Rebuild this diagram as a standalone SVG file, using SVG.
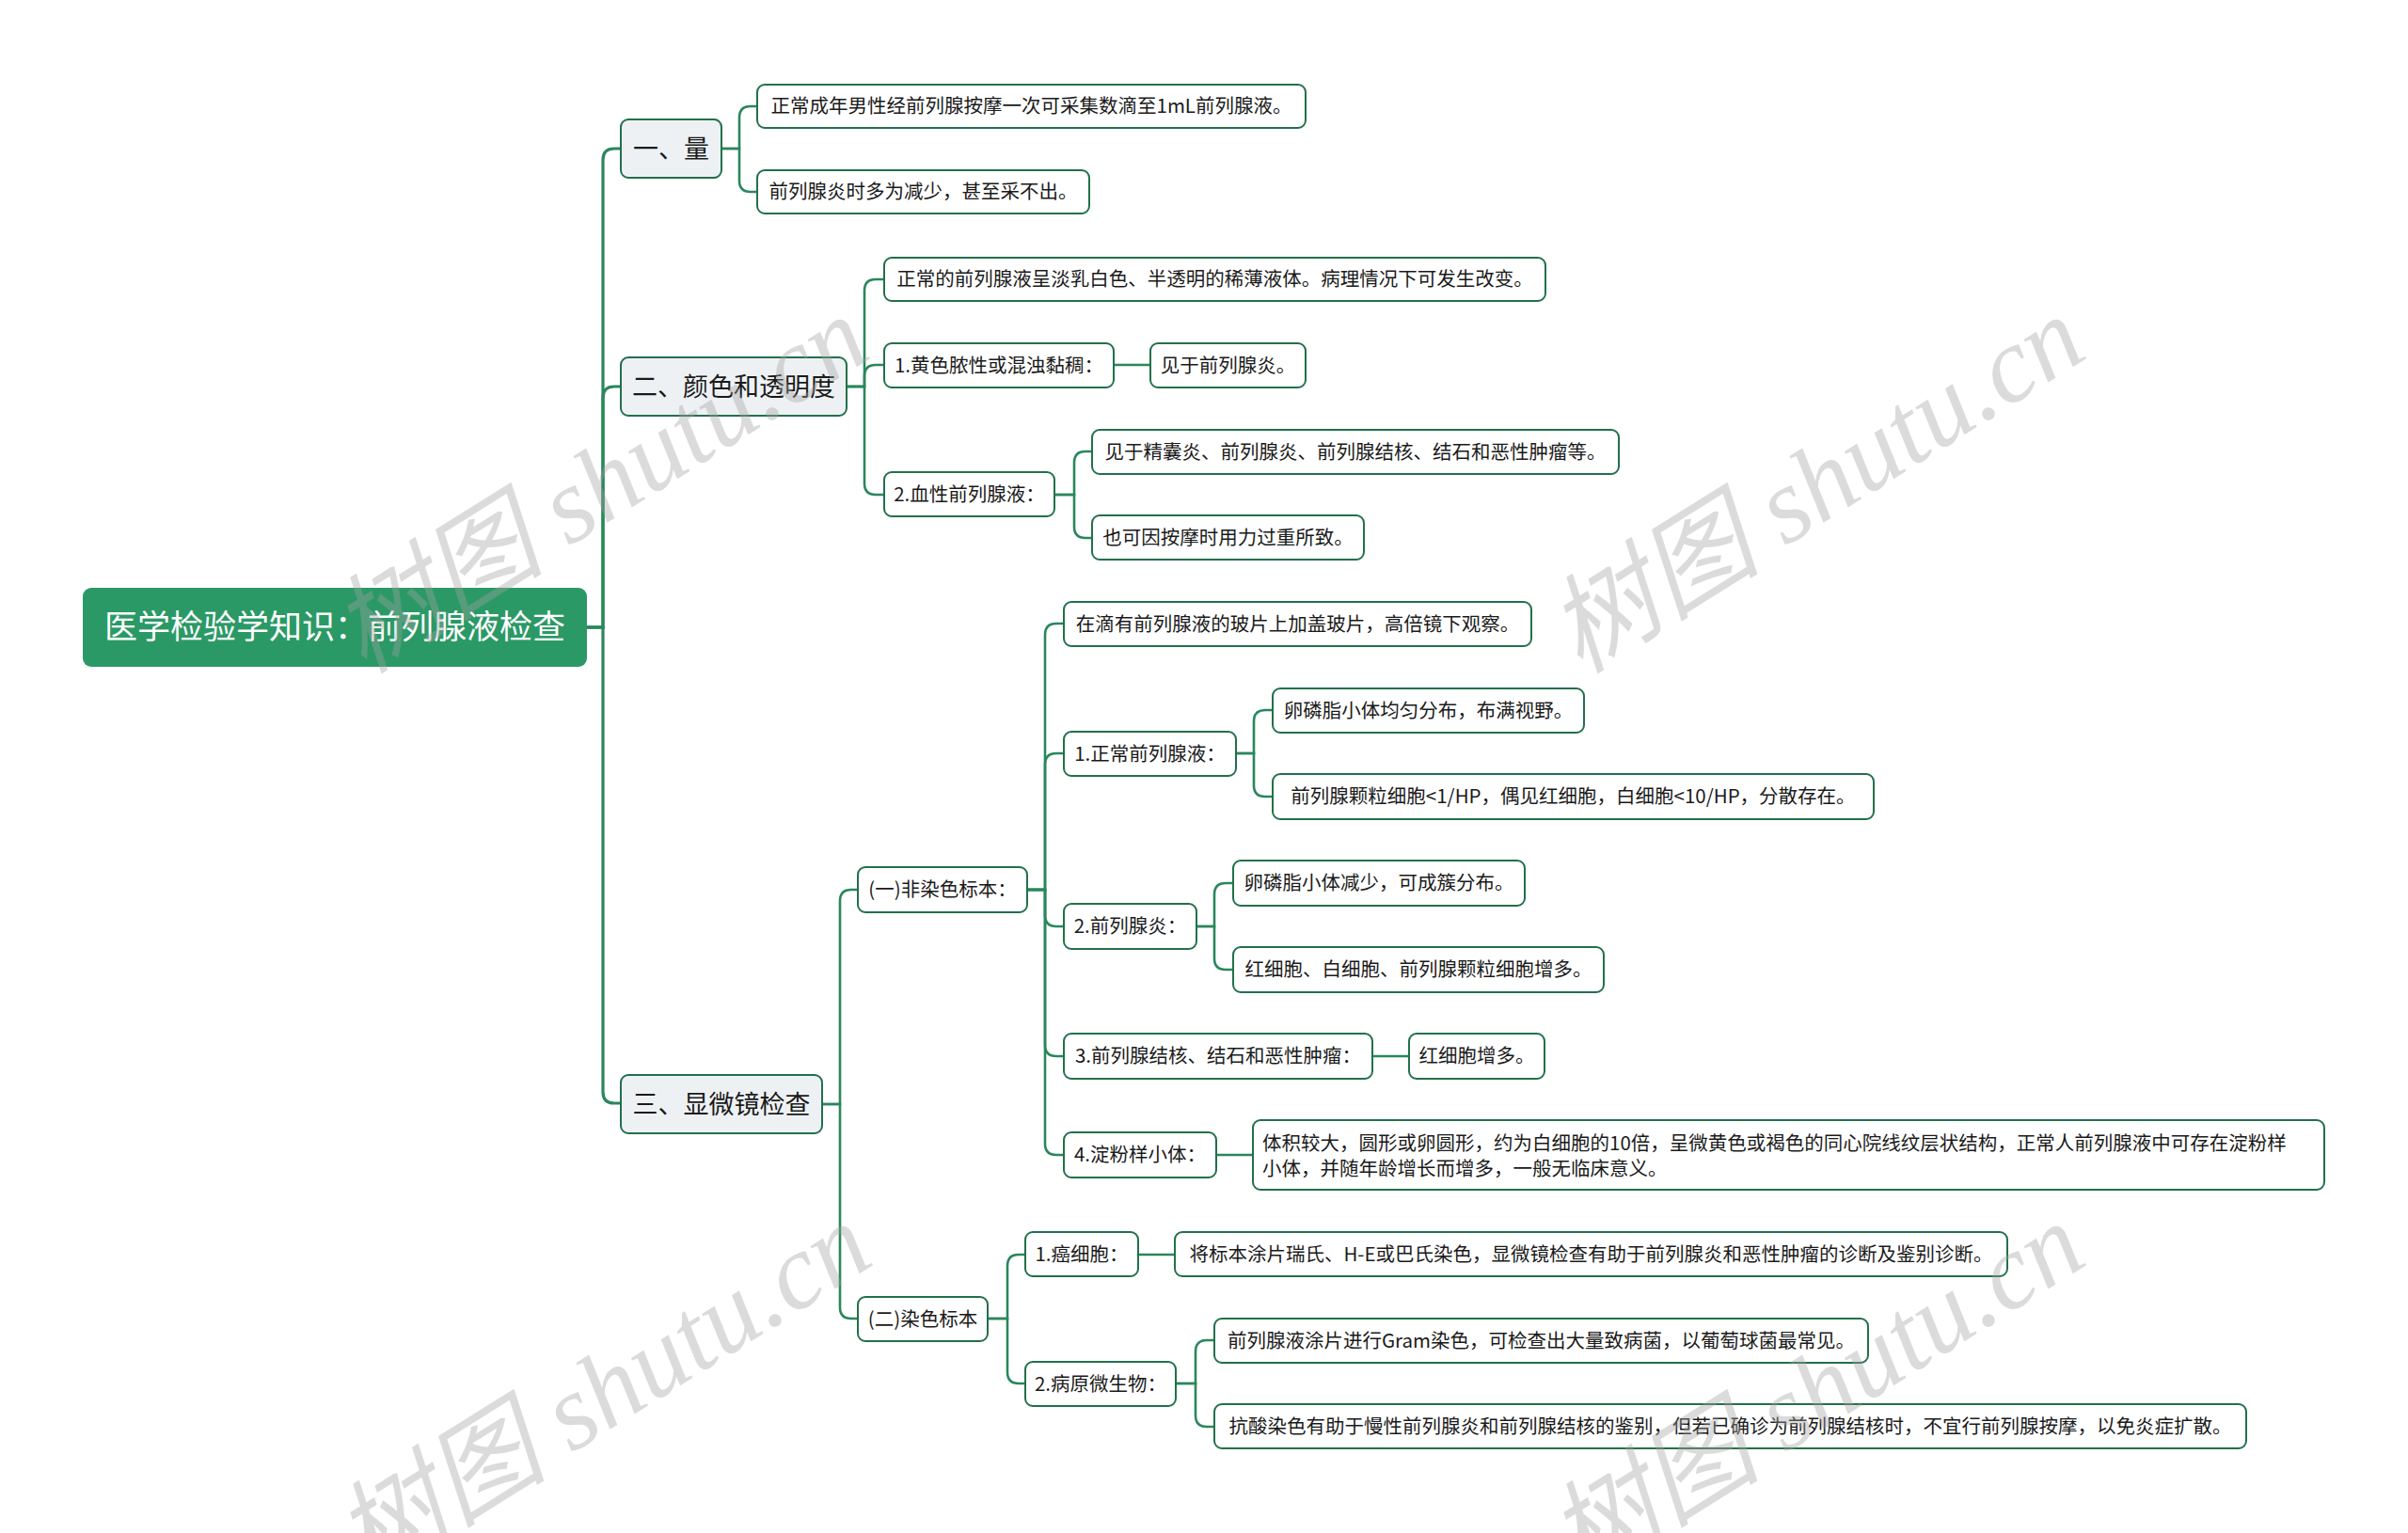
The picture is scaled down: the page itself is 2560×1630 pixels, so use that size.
<svg xmlns="http://www.w3.org/2000/svg" width="2560" height="1630" viewBox="0 0 2560 1630">
<style>
.bg{fill:#ffffff}
.root rect{fill:#2b9966;stroke:none}
.root text{fill:#ffffff;font-size:35px}
.l1 rect{fill:#eef1f4;stroke:#22704b;stroke-width:2}
.l1 text{fill:#1a1a1a;font-size:27px}
.lf rect{fill:#ffffff;stroke:#22704b;stroke-width:2}
.lf text{fill:#1a1a1a;font-size:20.5px}
text{font-family:"Noto Sans CJK SC","Noto Sans",sans-serif}
.c path{fill:none;stroke:#2a875c;stroke-width:2.6;stroke-linecap:round}
.c path.t{stroke-width:3.2}
.wm text{font-family:"Liberation Serif","Noto Sans CJK SC",serif;font-style:italic;font-size:114px;fill:#a0a0a0;fill-opacity:0.38}
.m{text-anchor:middle}
</style>
<rect class="bg" x="0" y="0" width="2560" height="1630"/>

<g id="connectors" class="c">
  <path class="t" d="M624 667 H641 V170 Q641 158 653 158 H660"/>
  <path class="t" d="M624 667 H641 V423 Q641 411 653 411 H660"/>
  <path class="t" d="M624 667 H641 V1161 Q641 1173 653 1173 H660"/>
  <path d="M767 158 H786 V125 Q786 113 798 113 H805"/>
  <path d="M767 158 H786 V192 Q786 204 798 204 H805"/>
  <path d="M900 411 H919 V309 Q919 297 931 297 H940"/>
  <path d="M900 411 H919 V400 Q919 388 931 388 H940"/>
  <path d="M900 411 H919 V514 Q919 526 931 526 H940"/>
  <path d="M1184 388 H1223"/>
  <path d="M1121 526 H1142 V492 Q1142 480 1154 480 H1161"/>
  <path d="M1121 526 H1142 V560 Q1142 572 1154 572 H1161"/>
  <path d="M874 1174 H893 V958 Q893 946 905 946 H912"/>
  <path d="M874 1174 H893 V1390 Q893 1402 905 1402 H912"/>
  <path d="M1092 946 H1111 V675 Q1111 663 1123 663 H1131"/>
  <path d="M1092 946 H1111 V813 Q1111 801 1123 801 H1131"/>
  <path d="M1092 946 H1111 V973 Q1111 985 1123 985 H1131"/>
  <path d="M1092 946 H1111 V1111 Q1111 1123 1123 1123 H1131"/>
  <path d="M1092 946 H1111 V1216 Q1111 1228 1123 1228 H1131"/>
  <path d="M1314 801 H1333 V767 Q1333 755 1345 755 H1353"/>
  <path d="M1314 801 H1333 V835 Q1333 847 1345 847 H1353"/>
  <path d="M1272 985 H1291 V951 Q1291 939 1303 939 H1311"/>
  <path d="M1272 985 H1291 V1019 Q1291 1031 1303 1031 H1311"/>
  <path d="M1459 1123 H1498"/>
  <path d="M1293 1228 H1332"/>
  <path d="M1050 1402 H1071 V1346 Q1071 1334 1083 1334 H1090"/>
  <path d="M1050 1402 H1071 V1459 Q1071 1471 1083 1471 H1090"/>
  <path d="M1210 1334 H1249"/>
  <path d="M1250 1471 H1271 V1437 Q1271 1425 1283 1425 H1291"/>
  <path d="M1250 1471 H1271 V1505 Q1271 1517 1283 1517 H1291"/>
</g>

<g id="root" class="root">
  <rect x="88" y="625" width="536" height="84" rx="9"/>
  <text class="m" x="356" y="679">医学检验学知识：前列腺液检查</text>
</g>

<g id="n1" class="l1"><rect x="660" y="127" width="107" height="62" rx="8"/><text class="m" x="713.5" y="167.5">一、量</text></g>
<g id="n2" class="l1"><rect x="660" y="380" width="240" height="62" rx="8"/><text class="m" x="780" y="420.5">二、颜色和透明度</text></g>
<g id="n3" class="l1"><rect x="660" y="1143" width="214" height="62" rx="8"/><text class="m" x="767" y="1183.5">三、显微镜检查</text></g>

<g id="n1a" class="lf"><rect x="805" y="90" width="583" height="46" rx="8"/><text class="m" x="1096.5" y="120">正常成年男性经前列腺按摩一次可采集数滴至1mL前列腺液。</text></g>
<g id="n1b" class="lf"><rect x="805" y="181" width="353" height="46" rx="8"/><text class="m" x="981.5" y="211">前列腺炎时多为减少，甚至采不出。</text></g>

<g id="n2a" class="lf"><rect x="940" y="274" width="703" height="46" rx="8"/><text class="m" x="1291.5" y="304">正常的前列腺液呈淡乳白色、半透明的稀薄液体。病理情况下可发生改变。</text></g>
<g id="n2b" class="lf"><rect x="940" y="365" width="244" height="47" rx="8"/><text class="m" x="1062" y="395.5">1.黄色脓性或混浊黏稠：</text></g>
<g id="n2b1" class="lf"><rect x="1223" y="365" width="165" height="47" rx="8"/><text class="m" x="1305.5" y="395.5">见于前列腺炎。</text></g>
<g id="n2c" class="lf"><rect x="940" y="502" width="181" height="47" rx="8"/><text class="m" x="1030.5" y="532.5">2.血性前列腺液：</text></g>
<g id="n2c1" class="lf"><rect x="1161" y="457" width="560" height="47" rx="8"/><text class="m" x="1441" y="487.5">见于精囊炎、前列腺炎、前列腺结核、结石和恶性肿瘤等。</text></g>
<g id="n2c2" class="lf"><rect x="1161" y="548" width="289" height="47" rx="8"/><text class="m" x="1305.5" y="578.5">也可因按摩时用力过重所致。</text></g>

<g id="n3a" class="lf"><rect x="912" y="922" width="180" height="48" rx="8"/><text class="m" x="1002" y="953">(一)非染色标本：</text></g>
<g id="n3a1" class="lf"><rect x="1131" y="640" width="497" height="47" rx="8"/><text class="m" x="1379.5" y="670.5">在滴有前列腺液的玻片上加盖玻片，高倍镜下观察。</text></g>
<g id="n3a2" class="lf"><rect x="1131" y="778" width="183" height="47" rx="8"/><text class="m" x="1222.5" y="808.5">1.正常前列腺液：</text></g>
<g id="n3a2a" class="lf"><rect x="1353" y="732" width="331" height="47" rx="8"/><text class="m" x="1518.5" y="762.5">卵磷脂小体均匀分布，布满视野。</text></g>
<g id="n3a2b" class="lf"><rect x="1353" y="823" width="639" height="48" rx="8"/><text class="m" x="1672.5" y="854">前列腺颗粒细胞&lt;1/HP，偶见红细胞，白细胞&lt;10/HP，分散存在。</text></g>
<g id="n3a3" class="lf"><rect x="1131" y="961" width="141" height="48" rx="8"/><text class="m" x="1201.5" y="992">2.前列腺炎：</text></g>
<g id="n3a3a" class="lf"><rect x="1311" y="915" width="310" height="48" rx="8"/><text class="m" x="1466" y="946">卵磷脂小体减少，可成簇分布。</text></g>
<g id="n3a3b" class="lf"><rect x="1311" y="1007" width="394" height="48" rx="8"/><text class="m" x="1508" y="1038">红细胞、白细胞、前列腺颗粒细胞增多。</text></g>
<g id="n3a4" class="lf"><rect x="1131" y="1099" width="328" height="48" rx="8"/><text class="m" x="1295" y="1130">3.前列腺结核、结石和恶性肿瘤：</text></g>
<g id="n3a4a" class="lf"><rect x="1498" y="1099" width="144" height="48" rx="8"/><text class="m" x="1570" y="1130">红细胞增多。</text></g>
<g id="n3a5" class="lf"><rect x="1131" y="1204" width="162" height="48" rx="8"/><text class="m" x="1212" y="1235">4.淀粉样小体：</text></g>
<g id="n3a5a" class="lf"><rect x="1332" y="1191" width="1139" height="74" rx="8"/>
  <text x="1342" y="1223">体积较大，圆形或卵圆形，约为白细胞的10倍，呈微黄色或褐色的同心院线纹层状结构，正常人前列腺液中可存在淀粉样</text>
  <text x="1342" y="1250">小体，并随年龄增长而增多，一般无临床意义。</text></g>

<g id="n3b" class="lf"><rect x="912" y="1379" width="138" height="47" rx="8"/><text class="m" x="981" y="1409.5">(二)染色标本</text></g>
<g id="n3b1" class="lf"><rect x="1090" y="1310" width="120" height="47" rx="8"/><text class="m" x="1150" y="1340.5">1.癌细胞：</text></g>
<g id="n3b1a" class="lf"><rect x="1249" y="1310" width="885" height="47" rx="8"/><text class="m" x="1691.5" y="1340.5">将标本涂片瑞氏、H-E或巴氏染色，显微镜检查有助于前列腺炎和恶性肿瘤的诊断及鉴别诊断。</text></g>
<g id="n3b2" class="lf"><rect x="1090" y="1448" width="160" height="47" rx="8"/><text class="m" x="1170" y="1478.5">2.病原微生物：</text></g>
<g id="n3b2a" class="lf"><rect x="1291" y="1402" width="695" height="47" rx="8"/><text class="m" x="1638.5" y="1432.5">前列腺液涂片进行Gram染色，可检查出大量致病菌，以葡萄球菌最常见。</text></g>
<g id="n3b2b" class="lf"><rect x="1291" y="1493" width="1097" height="47" rx="8"/><text class="m" x="1839.5" y="1523.5">抗酸染色有助于慢性前列腺炎和前列腺结核的鉴别，但若已确诊为前列腺结核时，不宜行前列腺按摩，以免炎症扩散。</text></g>

<g id="watermark" class="wm">
  <text class="m" x="637" y="554" transform="rotate(-32 637 514)">树图 shutu.cn</text>
  <text class="m" x="1930" y="554" transform="rotate(-32 1930 514)">树图 shutu.cn</text>
  <text class="m" x="640" y="1518" transform="rotate(-32 640 1478)">树图 shutu.cn</text>
  <text class="m" x="1930" y="1518" transform="rotate(-32 1930 1478)">树图 shutu.cn</text>
</g>
</svg>
